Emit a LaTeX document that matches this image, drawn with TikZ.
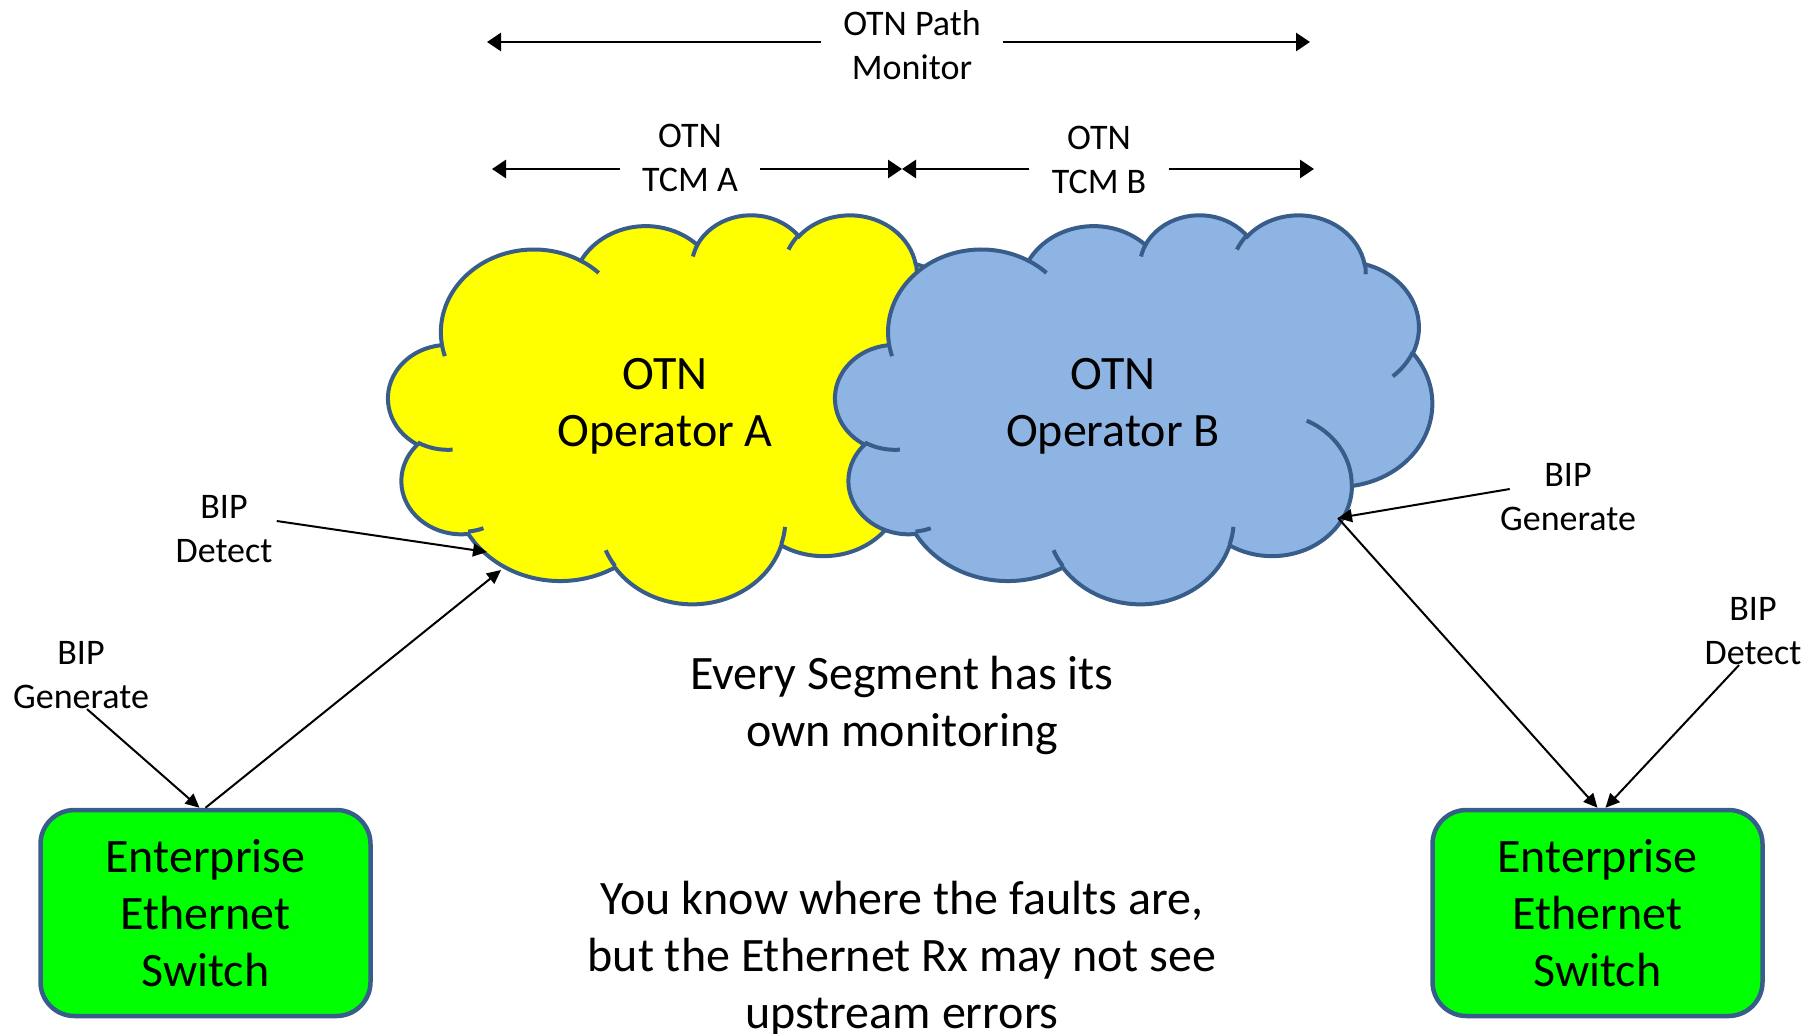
\documentclass[tikz,border=0pt]{standalone}
\usepackage{fontspec}
\setmainfont{Carlito}
\usetikzlibrary{arrows.meta}
\definecolor{cloudedge}{HTML}{385D8A}
\definecolor{opayellow}{HTML}{FFFF00}
\definecolor{opbblue}{HTML}{8EB4E3}
\definecolor{switchgreen}{HTML}{00FF00}
\newcommand\bigsize{\fontsize{24}{28.5}\selectfont}
\newcommand\smallsize{\fontsize{18}{22}\selectfont}
% one puff of the cloud, angles measured as seen (not parametric)
\newcommand\puff[4]{%
  \pgfextra{%
    \pgfmathparse{atan2(#1*sin(#3),#2*cos(#3))}\xdef\puffa{\pgfmathresult}%
    \pgfmathparse{atan2(#1*sin(#3+#4),#2*cos(#3+#4))}\xdef\puffb{\pgfmathresult}%
    \pgfmathparse{mod(\puffb-(\puffa)+720,360)}\xdef\puffd{\pgfmathresult}%
  }%
  arc[start angle=\puffa, delta angle=\puffd, x radius=#1, y radius=#2]}
% cloud in a 4320 x 4320 frame
\newcommand\otncloud[1]{%
  \filldraw[cloudline, fill=#1] (390,1437)
    \puff{675.3}{919}{-190.4875}{123.7805}
    \puff{533.3}{726.7}{-144.1024}{89.9452}
    \puff{436.5}{594.5}{-145.8079}{99.7230}
    \puff{485.7}{659.5}{-130.9861}{117.2417}
    \puff{533.3}{727.3}{-78.7089}{109.0269}
    \puff{677.5}{922}{-46.2673}{130.2690}
    \puff{578.5}{786.7}{0.6250}{114.0333}
    \puff{675.2}{921.5}{22.4516}{115.1726}
    \puff{772}{1054.3}{66.2426}{75.2307}
    \puff{436}{591.8}{-274.9421}{146.7356}
    \puff{434.5}{594.5}{-246.8285}{152.5189} -- cycle;
  \draw[cloudline]
    (469.3,2617.7) \puff{434.5}{594.5}{86.7420}{26.4295}
    (692.8,3489.9) \puff{436}{591.8}{73.6105}{11.4475}
    (1647.8,3909) \puff{675.2}{921.5}{137.6242}{14.0811}
    (2882.7,3475.1) \puff{675.2}{921.5}{6.4533}{15.9984}
    (3412.9,2295.4) \puff{578.5}{786.7}{-70.2924}{70.9174}
    (4179.8,1535.4) \puff{533.3}{727.3}{30.3180}{27.7515}
    (3832.4,542.6) \puff{485.7}{659.5}{-13.7443}{14.8589}
    (2907.8,395.2) \puff{485.7}{659.5}{-149.1815}{18.1954}
    (2214.1,472) \puff{436.5}{594.5}{-163.4943}{17.6864}
    (1400,519.2) \puff{675.3}{919}{-66.7070}{12.3194}
    (412.7,1578.9) \puff{675.3}{919}{157.6544}{11.8582};
}
\tikzset{%
  cloudline/.style = {draw=cloudedge, line width=2pt},%
  switchbox/.style = {shape=rectangle, rounded corners=17pt,%
                      draw=cloudedge, line width=2.25pt, fill=switchgreen,%
                      minimum width=165pt, minimum height=103pt,%
                      align=center, font=\bigsize},%
  optext/.style    = {align=center, font=\bigsize},%
  biplabel/.style  = {align=center, font=\smallsize, inner sep=0pt},%
  spanlabel/.style = {align=center, font=\smallsize, inner xsep=11pt},%
  spanarrow/.style = {line width=1.4pt, -{Triangle[length=7pt,width=9pt]}},%
  biparrow/.style  = {line width=1pt, -{Triangle[length=7pt,width=6.5pt]}}%
}
\begin{document}
\begin{tikzpicture}[x=0.5pt, y=-0.5pt]
  \useasboundingbox (0,0) rectangle (1818,1033);
  \begin{scope}[shift={(388,214)}, x=0.06887pt, y=-0.04502pt]
    \otncloud{opayellow}
  \end{scope}
  \begin{scope}[shift={(835,214)}, x=0.06910pt, y=-0.04502pt]
    \otncloud{opbblue}
  \end{scope}
  \node[optext] (opa) at (665,406) {OTN\\Operator A};
  \node[optext] (opb) at (1113,406) {OTN\\Operator B};

  \node[spanlabel] (pathmon) at (912,45) {OTN Path\\Monitor};
  \node[spanlabel] (tcma) at (690,158) {OTN\\TCM A};
  \node[spanlabel] (tcmb) at (1099,160) {OTN\\TCM B};
  \coordinate (pmL) at (487,42);
  \coordinate (pmR) at (1310,42);
  \coordinate (taL) at (492,169);
  \coordinate (tmid) at (902,169);
  \coordinate (tbR) at (1314,169);
  \draw[spanarrow] (pathmon.west |- pmL) -- (pmL);
  \draw[spanarrow] (pathmon.east |- pmR) -- (pmR);
  \draw[spanarrow] (tcma.west |- taL) -- (taL);
  \draw[spanarrow] (tcma.east |- tmid) -- (tmid);
  \draw[spanarrow] (tcmb.west |- tmid) -- (tmid);
  \draw[spanarrow] (tcmb.east |- tbR) -- (tbR);

  \node[switchbox] (swl) at (205.5,913) {Enterprise\\Ethernet\\Switch};
  \node[switchbox] (swr) at (1597.5,913) {Enterprise\\Ethernet\\Switch};
  \node[biplabel] (bipdl) at (224,529) {BIP\\Detect};
  \node[biplabel] (bipgl) at (81,675) {BIP\\Generate};
  \node[biplabel] (bipgr) at (1568,497) {BIP\\Generate};
  \node[biplabel] (bipdr) at (1753,631) {BIP\\Detect};
  \coordinate (ya1) at (487,552);
  \coordinate (ya2) at (501,570);
  \coordinate (bb1) at (1338,518);
  \draw[biparrow] ([shift={(2pt,4pt)}]bipdl.east) -- (ya1);
  \draw[biparrow] ([xshift=3pt]bipgl.south) -- ([xshift=-3pt]swl.north);
  \draw[biparrow] (swl.north) -- (ya2);
  \draw[biparrow] ([shift={(5pt,4pt)}]bipgr.west) -- (bb1);
  \draw[biparrow] (bb1) -- (swr.north);
  \draw[biparrow] ([xshift=-7pt]bipdr.south) -- ([xshift=4pt]swr.north);

  \node[optext] (segtxt) at (902,705) {Every Segment has its\\own monitoring};
  \node[optext] (faulttxt) at (902,959) {You know where the faults are,\\but the Ethernet Rx may not see\\upstream errors};
\end{tikzpicture}
\end{document}
